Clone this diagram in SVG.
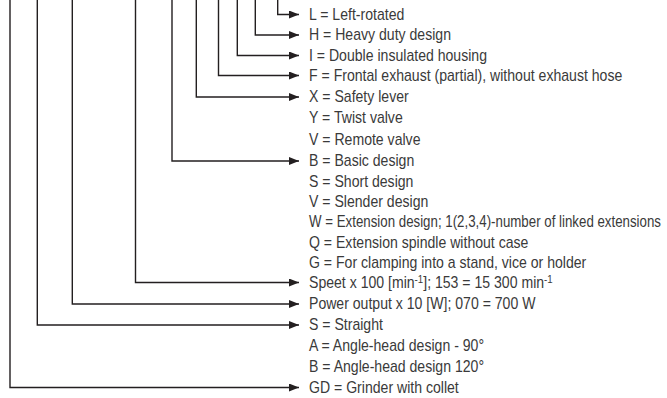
<svg xmlns="http://www.w3.org/2000/svg" width="667" height="398" viewBox="0 0 667 398">
<style>
.c{fill:none;stroke:#231f20;stroke-width:1.4}
text{font-family:"Liberation Sans",Arial,sans-serif;font-size:16px;fill:#3a3a3a}
</style>
<defs>
<marker id="ah" viewBox="0 0 10 8" refX="10" refY="4" markerWidth="10" markerHeight="8" markerUnits="userSpaceOnUse" orient="auto">
<path d="M0,0 L10,4 L0,8 Z" fill="#231f20"/>
</marker>
</defs>
<rect width="667" height="398" fill="#fff"/>
<g id="connectors">
<path class="c" marker-end="url(#ah)" d="M277.7,0 V14.5 H299"/>
<path class="c" marker-end="url(#ah)" d="M255.3,0 V35 H299"/>
<path class="c" marker-end="url(#ah)" d="M237.3,0 V55.5 H299"/>
<path class="c" marker-end="url(#ah)" d="M218.5,0 V75.5 H299"/>
<path class="c" marker-end="url(#ah)" d="M196.3,0 V97 H299"/>
<path class="c" marker-end="url(#ah)" d="M172,0 V161 H299"/>
<path class="c" marker-end="url(#ah)" d="M135.5,0 V282.5 H299"/>
<path class="c" marker-end="url(#ah)" d="M72.3,0 V304 H299"/>
<path class="c" marker-end="url(#ah)" d="M37.3,0 V325 H299"/>
<path class="c" marker-end="url(#ah)" d="M10,0 V387.5 H299"/>
</g>
<g id="labels" transform="matrix(0.88 0 0 1 37.08 0)">
<text id="t-L" x="309" y="20">L = Left-rotated</text>
<text id="t-H" x="309" y="40.5">H = Heavy duty design</text>
<text id="t-I" x="309" y="61">I = Double insulated housing</text>
<text id="t-F" x="309" y="81">F = Frontal exhaust (partial), without exhaust hose</text>
<text id="t-X" x="309" y="102.5">X = Safety lever</text>
<text id="t-Y" x="309" y="123.5">Y = Twist valve</text>
<text id="t-V1" x="309" y="145">V = Remote valve</text>
<text id="t-B1" x="309" y="166.5">B = Basic design</text>
<text id="t-S1" x="309" y="187">S = Short design</text>
<text id="t-V2" x="309" y="207">V = Slender design</text>
<text id="t-W" x="309" y="227.5" textLength="400" lengthAdjust="spacingAndGlyphs">W = Extension design; 1(2,3,4)-number of linked extensions</text>
<text id="t-Q" x="309" y="248">Q = Extension spindle without case</text>
<text id="t-G" x="309" y="268">G = For clamping into a stand, vice or holder</text>
<text id="t-speed" x="309" y="288">Speet x 100 [min<tspan dy="-5" font-size="11">-1</tspan><tspan dy="5">]; 153 = 15 300 min</tspan><tspan dy="-5" font-size="11">-1</tspan></text>
<text id="t-power" x="309" y="309.5">Power output x 10 [W]; 070 = 700 W</text>
<text id="t-S2" x="309" y="330.5">S = Straight</text>
<text id="t-A" x="309" y="351">A = Angle-head design - 90°</text>
<text id="t-B2" x="309" y="372">B = Angle-head design 120°</text>
<text id="t-GD" x="309" y="393">GD = Grinder with collet</text>
</g>
</svg>
